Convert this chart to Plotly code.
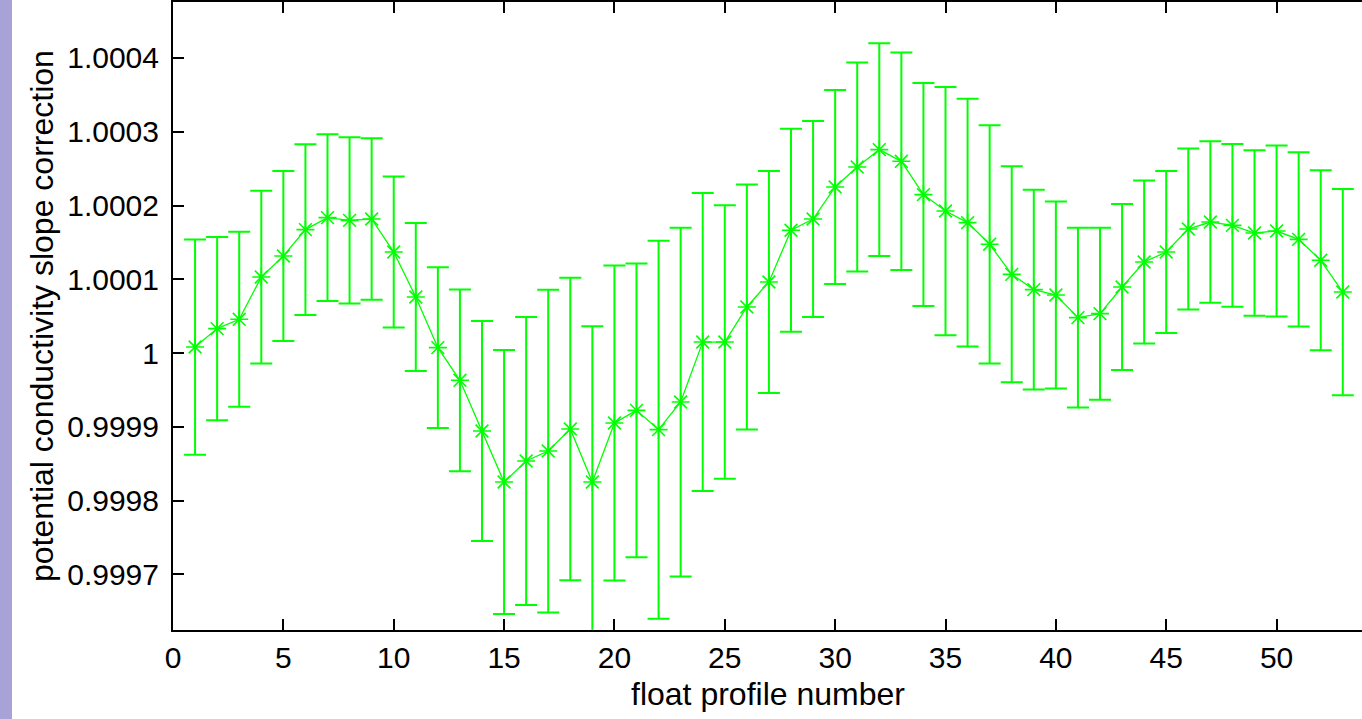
import plotly.graph_objects as go

# float profile numbers
profile = list(range(1, 54))

# slope correction values (centre of each error bar)
slope = [
    1.0000081, 1.0000331, 1.0000457, 1.0001030, 1.0001315, 1.0001673, 1.0001836, 1.0001799,
    1.0001817, 1.0001369, 1.0000759, 1.0000073, 0.9999630, 0.9998943, 0.9998251, 0.9998536,
    0.9998671, 0.9998970, 0.9998251, 0.9999051, 0.9999223, 0.9998961, 0.9999336, 1.0000149,
    1.0000149, 1.0000624, 1.0000963, 1.0001664, 1.0001817, 1.0002251, 1.0002522, 1.0002758,
    1.0002599, 1.0002148, 1.0001925, 1.0001768, 1.0001474, 1.0001067, 1.0000860, 1.0000786,
    1.0000480, 1.0000534, 1.0000895, 1.0001234, 1.0001369, 1.0001681, 1.0001776, 1.0001731,
    1.0001627, 1.0001654, 1.0001541, 1.0001257, 1.0000827,
]

# error (half length of each error bar)
slope_err = [
    0.0001459, 0.0001243, 0.0001186, 0.0001171, 0.0001152, 0.0001157, 0.0001130, 0.0001128,
    0.0001094, 0.0001024, 0.0001003, 0.0001091, 0.0001232, 0.0001491, 0.0001790, 0.0001952,
    0.0002188, 0.0002049, 0.0002111, 0.0002135, 0.0001991, 0.0002562, 0.0002364, 0.0002020,
    0.0001855, 0.0001661, 0.0001505, 0.0001376, 0.0001329, 0.0001315, 0.0001417, 0.0001442,
    0.0001475, 0.0001512, 0.0001683, 0.0001681, 0.0001615, 0.0001464, 0.0001353, 0.0001268,
    0.0001218, 0.0001166, 0.0001125, 0.0001105, 0.0001098, 0.0001091, 0.0001096, 0.0001103,
    0.0001123, 0.0001159, 0.0001180, 0.0001220, 0.0001398,
]

x_ticks = [0, 5, 10, 15, 20, 25, 30, 35, 40, 45, 50]
y_ticks = [0.9997, 0.9998, 0.9999, 1.0, 1.0001, 1.0002, 1.0003, 1.0004]
y_tick_text = ["0.9997", "0.9998", "0.9999", "1", "1.0001", "1.0002", "1.0003", "1.0004"]

x_range = [0, 53.87]
y_range = [0.9996245, 1.0004759]

GREEN = "#00ff00"
FONT = "Liberation Sans, Arial, Helvetica, sans-serif"

W, H = 1362, 719
ML, MR, MT, MB = 173, 0, 2, 89
PW = W - ML - MR
PH = H - MT - MB

fig = go.Figure()
fig.add_trace(go.Scatter(
    x=profile, y=slope, mode="lines+markers",
    line=dict(color=GREEN, width=1.3),
    marker=dict(symbol="asterisk-open", size=15, color=GREEN,
                line=dict(color=GREEN, width=1.6)),
    error_y=dict(type="data", array=slope_err, visible=True,
                 color=GREEN, thickness=2, width=11),
    showlegend=False,
))

axis_font = dict(family=FONT, size=30, color="black")

fig.update_layout(
    width=W, height=H,
    margin=dict(l=ML, r=MR, t=MT, b=MB, pad=0),
    paper_bgcolor="white", plot_bgcolor="white",
    font=dict(family=FONT, color="black"),
    xaxis=dict(range=x_range, tickvals=x_ticks, ticks="inside", ticklen=11,
               tickwidth=2, tickcolor="black", showline=True, linewidth=2,
               linecolor="black", mirror="allticks", showgrid=False,
               zeroline=False, tickfont=axis_font),
    yaxis=dict(range=y_range, tickvals=y_ticks, ticktext=y_tick_text,
               ticks="inside", ticklen=11, tickwidth=2, tickcolor="black",
               showline=True, linewidth=2, linecolor="black", mirror=False,
               showgrid=False, zeroline=False, tickfont=axis_font,
               ticklabelstandoff=6),
    yaxis2=dict(range=y_range, tickvals=y_ticks, overlaying="y", side="right",
                anchor="x", ticks="inside", ticklen=11, tickwidth=2,
                tickcolor="black", showline=False, showgrid=False,
                zeroline=False, showticklabels=False),
    shapes=[dict(type="rect", xref="paper", yref="paper",
                 x0=-ML / PW, x1=(12 - ML) / PW, y0=-MB / PH, y1=1 + MT / PH,
                 fillcolor="#a7a3d7", line=dict(width=0), layer="below")],
    annotations=[
        dict(text="float profile number", xref="paper", yref="paper",
             x=0.5, y=(MT + PH - 694) / PH, xanchor="center",
             yanchor="middle", showarrow=False,
             font=dict(family=FONT, size=32, color="black")),
        dict(text="potential conductivity slope correction", xref="paper",
             yref="paper", x=(42 - ML) / PW, y=0.5, xanchor="center",
             yanchor="middle", textangle=-90, showarrow=False,
             font=dict(family=FONT, size=32, color="black")),
    ],
)

fig.write_html("out.html")
